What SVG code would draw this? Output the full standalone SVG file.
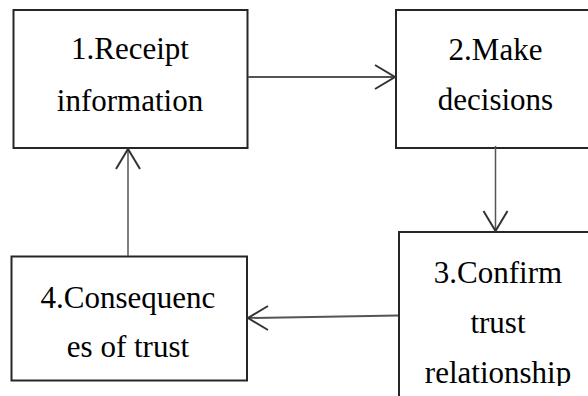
<svg xmlns="http://www.w3.org/2000/svg" width="588" height="396" viewBox="0 0 588 396">
  <rect width="588" height="396" fill="#ffffff"/>

  <g id="node1">
    <rect x="13.5" y="10" width="234" height="138" fill="#ffffff" stroke="#262626" stroke-width="2"/>
    <text x="130" y="58.5" font-size="31" font-family="Liberation Serif" text-anchor="middle">1.Receipt</text>
    <text x="130" y="110.5" font-size="31" font-family="Liberation Serif" text-anchor="middle">information</text>
  </g>

  <g id="node2">
    <rect x="396" y="10" width="210" height="138" fill="#ffffff" stroke="#262626" stroke-width="2"/>
    <text x="495.5" y="59.5" font-size="31" font-family="Liberation Serif" text-anchor="middle">2.Make</text>
    <text x="495.5" y="110" font-size="31" font-family="Liberation Serif" text-anchor="middle">decisions</text>
  </g>

  <g id="node3">
    <rect x="399" y="232" width="210" height="200" fill="#ffffff" stroke="#262626" stroke-width="2"/>
    <svg x="399" y="232" width="200" height="154" viewBox="399 232 200 154">
      <text x="498" y="283" font-size="31" font-family="Liberation Serif" text-anchor="middle">3.Confirm</text>
      <text x="498" y="333" font-size="31" font-family="Liberation Serif" text-anchor="middle">trust</text>
      <text x="498" y="383" font-size="31" font-family="Liberation Serif" text-anchor="middle">relationship</text>
    </svg>
  </g>

  <g id="node4">
    <rect x="11.5" y="256.5" width="235.5" height="124" fill="#ffffff" stroke="#262626" stroke-width="2"/>
    <text x="128" y="308" font-size="31" font-family="Liberation Serif" text-anchor="middle">4.Consequenc</text>
    <text x="128" y="357" font-size="31" font-family="Liberation Serif" text-anchor="middle">es of trust</text>
  </g>

  <g id="connectors" fill="none" stroke="#555555" stroke-width="2">
    <line x1="248" y1="77" x2="395" y2="77"/>
    <polyline points="375,65 395,77 375,89" stroke="#333333"/>
    <line x1="495.5" y1="146" x2="495.5" y2="231" stroke-width="1.5"/>
    <polyline points="483.5,211 495.5,231 507.5,211" stroke="#333333"/>
    <line x1="398" y1="315.5" x2="248" y2="318"/>
    <polyline points="268,306 248,318 268,330" stroke="#333333"/>
    <line x1="128" y1="256" x2="128" y2="149" stroke-width="1.5"/>
    <polyline points="116,169 128,149 140,169" stroke="#333333"/>
  </g>
</svg>
